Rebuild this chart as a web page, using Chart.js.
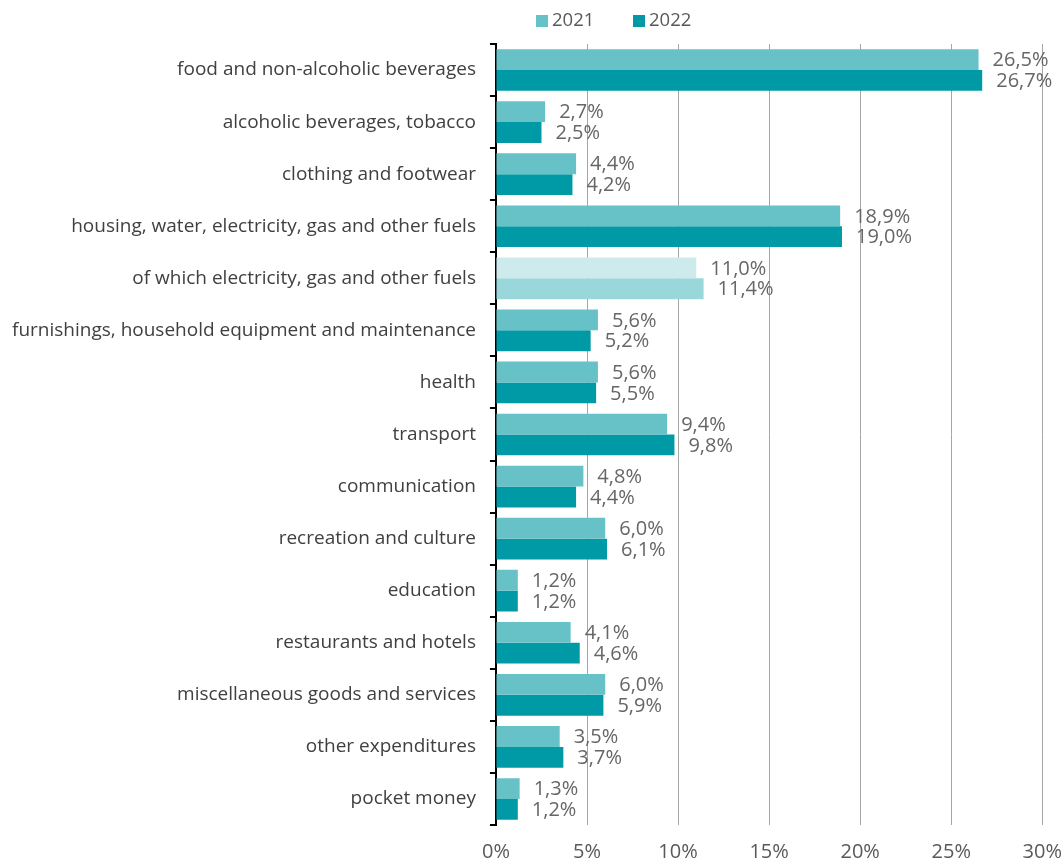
<!DOCTYPE html>
<html>
<head>
<meta charset="utf-8">
<script src="https://cdn.jsdelivr.net/npm/chart.js@4"></script>
<style>
  html, body { margin: 0; padding: 0; background: #fff; overflow: hidden; }
  #wrap { width: 1077px; height: 861px; }
</style>
</head>
<body>
<div id="wrap"><canvas id="chart"></canvas></div>
<script>
// household expenditure shares, %
const categories = [
  'food and non-alcoholic beverages',
  'alcoholic beverages, tobacco',
  'clothing and footwear',
  'housing, water, electricity, gas and other fuels',
  'of which electricity, gas and other fuels',
  'furnishings, household equipment and maintenance',
  'health',
  'transport',
  'communication',
  'recreation and culture',
  'education',
  'restaurants and hotels',
  'miscellaneous goods and services',
  'other expenditures',
  'pocket money'
];
const values2021 = [26.5, 2.7, 4.4, 18.9, 11.0, 5.6, 5.6, 9.4, 4.8, 6.0, 1.2, 4.1, 6.0, 3.5, 1.3];
const values2022 = [26.7, 2.5, 4.2, 19.0, 11.4, 5.2, 5.5, 9.8, 4.4, 6.1, 1.2, 4.6, 5.9, 3.7, 1.2];
const xTicks = [0, 5, 10, 15, 20, 25, 30];

const FONT = '"Open Sans", "Noto Sans", sans-serif';
const col2021 = '#67c2c8';
const col2022 = '#009aa6';
const highlightRow = 4; // the "of which" row is drawn lighter
const colors2021 = categories.map((c, i) => i === highlightRow ? '#cdebec' : col2021);
const colors2022 = categories.map((c, i) => i === highlightRow ? '#9ad7db' : col2022);

const fmt = v => v.toFixed(1).replace('.', ',') + '%';

// value labels to the right of each bar
const valueLabels = {
  id: 'valueLabels',
  afterDatasetsDraw(chart) {
    const ctx = chart.ctx;
    ctx.save();
    ctx.font = '20px ' + FONT;
    ctx.fillStyle = '#666666';
    ctx.textAlign = 'left';
    ctx.textBaseline = 'middle';
    chart.data.datasets.forEach((ds, di) => {
      chart.getDatasetMeta(di).data.forEach((bar, i) => {
        ctx.fillText(fmt(ds.data[i]), bar.x + 14, bar.y + 1);
      });
    });
    ctx.restore();
  }
};

// legend at the top
const topLegend = {
  id: 'topLegend',
  afterDraw(chart) {
    const ctx = chart.ctx;
    ctx.save();
    ctx.font = '18.5px ' + FONT;
    ctx.textBaseline = 'middle';
    let x = 536;
    const y = 21;
    chart.data.datasets.forEach(ds => {
      ctx.fillStyle = ds.legendColor;
      ctx.fillRect(x, y - 6, 12, 12);
      ctx.fillStyle = '#595959';
      ctx.fillText(ds.label, x + 16, y);
      x += 97;
    });
    ctx.restore();
  }
};

new Chart(document.getElementById('chart'), {
  type: 'bar',
  data: {
    labels: categories,
    datasets: [
      { label: '2021', data: values2021, backgroundColor: colors2021, legendColor: col2021 },
      { label: '2022', data: values2022, backgroundColor: colors2022, legendColor: col2022 }
    ]
  },
  options: {
    indexAxis: 'y',
    responsive: true,
    maintainAspectRatio: false,
    animation: false,
    layout: { padding: { top: 44, right: 0, left: -2, bottom: -18 } },
    datasets: { bar: { barPercentage: 1, categoryPercentage: 0.8 } },
    plugins: {
      legend: { display: false },
      tooltip: { enabled: false }
    },
    scales: {
      x: {
        min: 0,
        max: 30,
        afterBuildTicks: axis => { axis.ticks = xTicks.map(v => ({ value: v })); },
        grid: { color: '#a6a6a6', lineWidth: 1, drawTicks: false },
        border: { display: false },
        ticks: {
          color: '#595959',
          font: { family: FONT, size: 20 },
          padding: 15,
          callback: v => v + '%'
        }
      },
      y: {
        grid: { offset: true, drawOnChartArea: false, color: '#000', tickLength: 6, lineWidth: 2 },
        border: { display: true, color: '#000', width: 2 },
        ticks: {
          color: '#404040',
          font: { family: FONT, size: 19 },
          padding: 14
        }
      }
    }
  },
  plugins: [valueLabels, topLegend]
});
</script>
</body>
</html>
